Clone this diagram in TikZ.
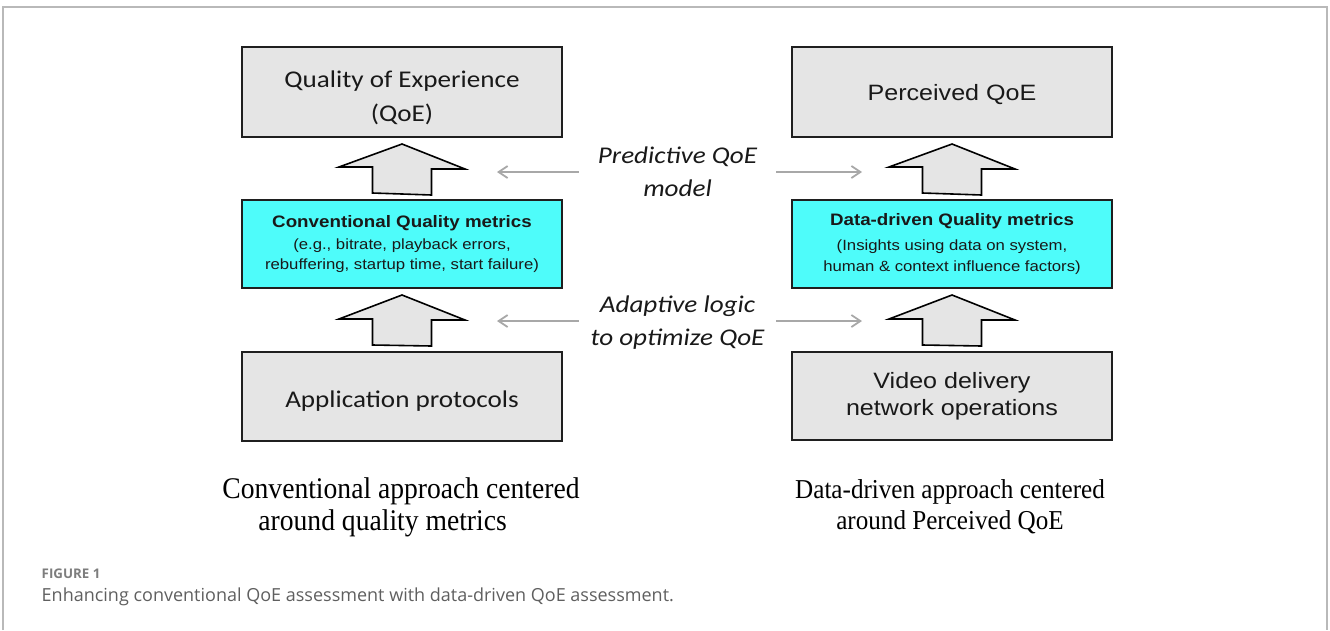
\documentclass[tikz,border=0pt]{standalone}
\usepackage{fontspec}
\usetikzlibrary{arrows.meta,calc}
\newfontfamily\calS[FakeStretch=1.13]{Carlito}
\newfontfamily\arS[FakeStretch=1.13]{Liberation Sans}
\newfontfamily\tmS[FakeStretch=0.92]{Liberation Serif}
\newfontfamily\capF{Open Sans}
\definecolor{boxgray}{RGB}{229,229,229}
\definecolor{qcyan}{RGB}{78,252,250}
\definecolor{linkgray}{RGB}{168,168,168}
\definecolor{framegray}{RGB}{185,185,185}
\definecolor{capgray}{RGB}{95,95,95}
\definecolor{figgray}{RGB}{125,125,125}
\newcommand\blockup[2]{%
  \draw[blockarrow] ($(#1.north)+(-29.5,-6)$) -- ++(0,-26) -- ++(-33.5,0)
    -- ($(#2.south)+(0,6)$) -- ++(63,25) -- ++(-33.5,0) -- ++(0,26) -- cycle;}
\begin{document}
\begin{tikzpicture}[x=1pt,y=-1pt,
 box/.style={draw=black!88, line width=2pt, fill=boxgray, minimum width=320pt, inner sep=0pt, align=center, text=black!90},
 metric/.style={box, fill=qcyan},
 blockarrow/.style={draw=black, line width=1.6pt, fill=boxgray, line join=miter},
 link/.style={draw=linkgray, line width=1.8pt, -{Straight Barb[length=9pt,width=12pt]}},
 midtext/.style={font=\calS\itshape\fontsize{24}{33}\selectfont, align=center, minimum width=197pt, inner sep=0pt, text=black!90},
]
\useasboundingbox (0,0) rectangle (1330,630);
\draw[framegray, line width=1.5pt] (3,630) -- (3,7) -- (1327,7) -- (1327,630);

% left column
\node[box, minimum height=90pt, text depth=0pt, font=\calS\fontsize{24}{34}\selectfont] (qoe) at (402,92) {\rule{0pt}{25pt}Quality of Experience\\(QoE)};
\node[metric, minimum height=88pt, font=\arS\fontsize{14.8}{20}\selectfont] (cm) at (402,244)
  {{\fontsize{16.6}{20}\selectfont\bfseries Conventional Quality metrics}\\[2pt]
   (e.g., bitrate, playback errors,\\ rebuffering, startup time, start failure)};
\node[box, minimum height=89pt, text depth=0pt, font=\calS\fontsize{24}{30}\selectfont] (app) at (402,396.5) {\rule{0pt}{22pt}Application protocols};

% right column
\node[box, minimum height=90pt, text depth=0pt, font=\arS\fontsize{22.2}{27}\selectfont] (pq) at (952,92) {Perceived QoE};
\node[metric, minimum height=88pt, font=\arS\fontsize{14.8}{21}\selectfont] (dm) at (952,244)
  {{\fontsize{16.6}{21}\selectfont\bfseries Data-driven Quality metrics}\\[4pt]
   (Insights using data on system,\\ human \& context influence factors)};
\node[box, minimum height=88pt, font=\arS\fontsize{22.2}{27}\selectfont] (vd) at (952,396) {Video delivery\\network operations};

% block arrows
\blockup{cm}{qoe}
\blockup{app}{cm}
\blockup{dm}{pq}
\blockup{vd}{dm}

% middle texts and links
\node[midtext] (pred) at (677.5,172) {Predictive QoE\\model};
\node[midtext, text depth=0pt] (adapt) at (677.5,321) {Adaptive logic\\to optimize QoE};
\coordinate (pl) at (497,172);
\coordinate (pr) at (862,172);
\coordinate (al) at (497,321);
\coordinate (ar) at (862,321);
\draw[link] (pred.west) -- (pl);
\draw[link] (pred.east) -- (pr);
\draw[link] (adapt.west) -- (al);
\draw[link] (adapt.east) -- (ar);

% bottom labels
\node[font=\tmS\fontsize{30}{32}\selectfont, align=left, inner sep=0pt] (lcap) at (401,507.5)
  {Conventional approach centered\\\hspace*{36pt}around quality metrics};
\node[font=\tmS\fontsize{27.3}{31}\selectfont, align=center, inner sep=0pt] (rcap) at (950,507)
  {Data-driven approach centered\\around Perceived QoE};

% caption
\node[font=\capF\bfseries\fontsize{13.3}{15}\selectfont, text=figgray, anchor=base west, inner sep=0pt] (fig) at (41.5,578) {FIGURE 1};
\node[font=\capF\fontsize{18}{20}\selectfont, text=capgray, anchor=base west, inner sep=0pt] (cap) at (41.5,601)
  {Enhancing conventional QoE assessment with data-driven QoE assessment.};
\end{tikzpicture}
\end{document}
